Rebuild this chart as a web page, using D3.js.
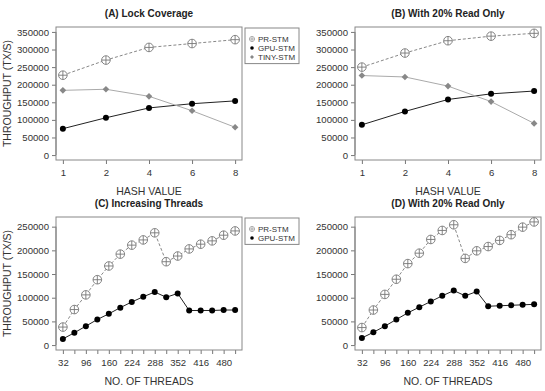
<!DOCTYPE html>
<html>
<head>
<meta charset="utf-8">
<script src="https://cdn.jsdelivr.net/npm/d3@7/dist/d3.min.js"></script>
<style>
  body { margin: 0; background: #fff; }
  svg { font-family: "Liberation Sans", Arial, sans-serif; }
  .title { font-weight: bold; font-size: 10px; fill: #222; }
  .tick text { font-size: 9.6px; fill: #333; }
  .lab { font-size: 10.5px; fill: #333; }
  .leg { font-size: 8px; fill: #333; }
</style>
</head>
<body>
<div id="chart"></div>
<script>
var hashValues = [1, 2, 4, 6, 8];
var threads = [32, 64, 96, 128, 160, 192, 224, 256, 288, 320, 352, 384, 416, 448, 480, 512];
var threadLabels = [32, 96, 160, 224, 288, 352, 416, 480];
var hashTicks = [0, 50000, 100000, 150000, 200000, 250000, 300000, 350000];
var threadTicks = [0, 50000, 100000, 150000, 200000, 250000];

// (A) lock coverage
var prA   = [227000, 270000, 306000, 317000, 328000];
var gpuA  = [75000, 106000, 134000, 146000, 154000];
var tinyA = [184000, 187000, 167000, 126000, 79000];
// (B) 20% read only
var prB   = [250000, 290000, 325000, 338000, 346000];
var gpuB  = [86000, 124000, 158000, 174000, 182000];
var tinyB = [226000, 222000, 196000, 152000, 90000];
// (C) increasing threads
var prC  = [38000, 75000, 106000, 138000, 167000, 192000, 211000, 222000, 237000, 176000, 188000, 203000, 213000, 220000, 232000, 241000];
var gpuC = [13000, 26000, 40000, 54000, 66000, 79000, 91000, 102000, 112000, 101000, 109000, 73000, 73000, 73000, 74000, 74000];
// (D) 20% read only
var prD  = [37000, 74000, 107000, 139000, 172000, 194000, 223000, 242000, 254000, 183000, 199000, 208000, 221000, 233000, 249000, 260000];
var gpuD = [15000, 27000, 40000, 54000, 68000, 80000, 92000, 104000, 115000, 104000, 113000, 82000, 83000, 84000, 85000, 86000];

var styles = {
  pr:   { name: "PR-STM",   line: "#888", dash: "3,2", width: 1 },
  gpu:  { name: "GPU-STM",  line: "#222", dash: null,  width: 1 },
  tiny: { name: "TINY-STM", line: "#aaa", dash: null,  width: 1 }
};

var svg = d3.select("#chart").append("svg")
    .attr("width", 545)
    .attr("height", 391);

var panels = [
  { title: "(A) Lock Coverage", x0: 56, y0: 27, xs: hashValues, xcat: true, yTicks: hashTicks, ymax: 350000,
    series: [["pr", prA], ["gpu", gpuA], ["tiny", tinyA]], xlab: "HASH VALUE", ylab: true, legend: true },
  { title: "(B) With 20% Read Only", x0: 355, y0: 27, xs: hashValues, xcat: true, yTicks: hashTicks, ymax: 350000,
    series: [["pr", prB], ["gpu", gpuB], ["tiny", tinyB]], xlab: "HASH VALUE", ylab: false, legend: false },
  { title: "(C) Increasing Threads", x0: 56, y0: 217, xs: threads, xcat: false, yTicks: threadTicks, ymax: 260000,
    series: [["pr", prC], ["gpu", gpuC]], xlab: "NO. OF THREADS", ylab: true, legend: true },
  { title: "(D) With 20% Read Only", x0: 355, y0: 217, xs: threads, xcat: false, yTicks: threadTicks, ymax: 260000,
    series: [["pr", prD], ["gpu", gpuD]], xlab: "NO. OF THREADS", ylab: false, legend: false }
];

var w = 186, h = 133;

function drawMarker(g, key, cx, cy) {
  if (key == "pr") {
    g.append("circle").attr("cx", cx).attr("cy", cy).attr("r", 4.3)
      .style("fill", "#fff").style("stroke", "#777").style("stroke-width", 0.9);
    g.append("path")
      .attr("d", "M" + (cx - 4.3) + "," + cy + "H" + (cx + 4.3) + "M" + cx + "," + (cy - 4.3) + "V" + (cy + 4.3))
      .style("stroke", "#777").style("stroke-width", 0.9);
  } else if (key == "gpu") {
    g.append("circle").attr("cx", cx).attr("cy", cy).attr("r", 3)
      .style("fill", "#000");
  } else {
    g.append("path").attr("transform", "translate(" + cx + "," + cy + ") rotate(45)")
      .attr("d", d3.symbol().type(d3.symbolSquare).size(22)())
      .style("fill", "#888");
  }
}

panels.forEach(function(p) {
  var g = svg.append("g").attr("transform", "translate(" + p.x0 + "," + p.y0 + ")");

  // hash values sit at evenly spaced positions, thread counts on a linear scale
  var x;
  if (p.xcat) {
    x = d3.scaleLinear().domain([-0.16, 4.16]).range([0, w]);
  } else {
    x = d3.scaleLinear().domain([32 - 19.2, 512 + 19.2]).range([0, w]);
  }
  var xpos = function(d, i) { return p.xcat ? x(i) : x(d); };

  var ext = p.ymax * 0.04;
  var y = d3.scaleLinear().domain([-ext, p.ymax + ext]).range([h, 0]);

  // title
  svg.append("text").attr("class", "title")
    .attr("x", p.x0 + w / 2).attr("y", p.y0 - 10)
    .attr("text-anchor", "middle").text(p.title);

  // y axis
  var ya = g.append("g").call(d3.axisLeft(y).tickValues(p.yTicks).tickSize(4).tickPadding(3).tickFormat(d3.format("d")));
  ya.select(".domain").remove();
  ya.selectAll(".tick line").style("stroke", "#777");
  ya.append("path")
    .attr("d", "M0," + y(p.yTicks[0]) + "V" + y(p.yTicks[p.yTicks.length - 1]))
    .style("stroke", "#777");

  // x axis
  var xa;
  if (p.xcat) {
    xa = g.append("g").attr("transform", "translate(0," + h + ")")
      .call(d3.axisBottom(x).tickValues(d3.range(p.xs.length)).tickSize(4).tickPadding(3)
        .tickFormat(function(i) { return p.xs[i]; }));
  } else {
    xa = g.append("g").attr("transform", "translate(0," + h + ")")
      .call(d3.axisBottom(x).tickValues(p.xs).tickSize(4).tickPadding(3)
        .tickFormat(function(d) { return threadLabels.indexOf(d) >= 0 ? d : ""; }));
  }
  xa.select(".domain").remove();
  xa.selectAll(".tick line").style("stroke", "#777").attr("y1", 0).attr("y2", 4);
  xa.selectAll(".tick text").attr("dy", "0.9em");

  // frame
  g.append("rect").attr("width", w).attr("height", h)
    .style("fill", "none").style("stroke", "#888").style("stroke-width", 1);

  // axis labels
  svg.append("text").attr("class", "lab")
    .attr("x", p.x0 + w / 2).attr("y", p.y0 + h + 35)
    .attr("text-anchor", "middle").text(p.xlab);
  if (p.ylab) {
    svg.append("text").attr("class", "lab")
      .attr("transform", "translate(11," + (p.y0 + h / 2) + ") rotate(-90)")
      .attr("text-anchor", "middle").text("THROUGHPUT (TX/S)");
  }

  // lines and markers
  p.series.forEach(function(s) {
    var key = s[0], vals = s[1], st = styles[key];
    var line = d3.line()
      .x(function(d, i) { return xpos(p.xs[i], i); })
      .y(function(d) { return y(d); });
    g.append("path").datum(vals).attr("d", line)
      .style("fill", "none").style("stroke", st.line)
      .style("stroke-width", st.width)
      .style("stroke-dasharray", st.dash);
    vals.forEach(function(v, i) { drawMarker(g, key, xpos(p.xs[i], i), y(v)); });
  });

  // legend
  if (p.legend) {
    var n = p.series.length;
    var lg = svg.append("g").attr("transform", "translate(" + (p.x0 + w + 3) + "," + (p.y0 + 1) + ")");
    lg.append("rect").attr("width", 54).attr("height", 8 + n * 9.2)
      .style("fill", "#fff").style("stroke", "#888");
    p.series.forEach(function(s, i) {
      var cy = 11 + i * 9;
      var mg = lg.append("g").attr("transform", "translate(7," + cy + ") scale(0.6)");
      drawMarker(mg, s[0], 0, 0);
      lg.append("text").attr("class", "leg").attr("x", 13).attr("y", cy + 3)
        .text(styles[s[0]].name);
    });
  }
});
</script>
</body>
</html>
